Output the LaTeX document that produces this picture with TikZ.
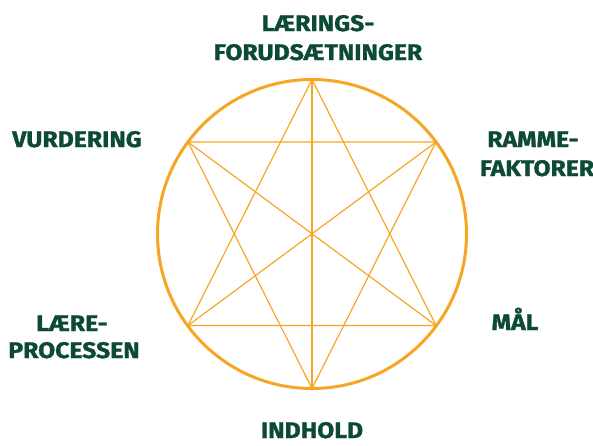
\documentclass[tikz,border=0pt]{standalone}
\usepackage{fontspec}
\setmainfont{Fira Sans}[FakeStretch=1.1, BoldFeatures={FakeBold=1.2}]
\definecolor{labgreen}{HTML}{0D4A35}
\definecolor{starorange}{HTML}{F6A623}
\begin{document}
\begin{tikzpicture}[x=1pt,y=-1pt,
  lab/.style={text=labgreen, font=\fontsize{22.5}{28}\selectfont\bfseries, anchor=base, inner sep=0pt},
  starline/.style={draw=starorange, line width=1.2pt, line join=round},
  ringline/.style={draw=starorange, line width=3pt}]
\useasboundingbox (0,0) rectangle (593,445);
\coordinate (c) at (312,234);
\coordinate (vT) at (312,79.5);
\coordinate (vB) at (312,388.5);
\coordinate (vUR) at (436,142);
\coordinate (vLR) at (436,325.5);
\coordinate (vUL) at (188,142);
\coordinate (vLL) at (188,325.5);
\draw[starline] (vUL) -- (vUR) -- (vB) -- cycle;
\draw[starline] (vLL) -- (vLR) -- (vT) -- cycle;
\draw[starline] (vT) -- (vB);
\draw[starline] (vUL) -- (vLR);
\draw[starline] (vUR) -- (vLL);
\draw[ringline] (c) circle[radius=154.5];
\node[lab] (l1a) at (318,31) {LÆRINGS-};
\node[lab] (l1b) at (318,60) {FORUDSÆTNINGER};
\node[lab] (l2a) at (533,147) {RAMME-};
\node[lab] (l2b) at (537,176) {FAKTORER};
\node[lab] (l3) at (515,330) {MÅL};
\node[lab] (l4) at (312,438) {INDHOLD};
\node[lab] (l5a) at (72,331) {LÆRE-};
\node[lab] (l5b) at (74,358) {PROCESSEN};
\node[lab] (l6) at (77,147) {VURDERING};
\end{tikzpicture}
\end{document}
